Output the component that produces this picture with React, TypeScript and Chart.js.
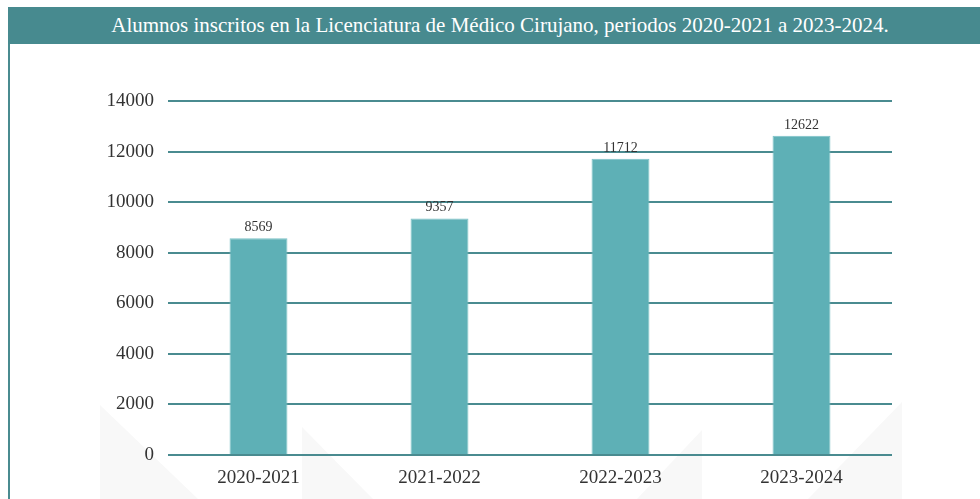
import React, { useEffect, useRef } from "react";
import { Chart, registerables } from "chart.js";

Chart.register(...registerables);

const TITLE = "Alumnos inscritos en la Licenciatura de Médico Cirujano, periodos 2020-2021 a 2023-2024.";
const categories = ["2020-2021", "2021-2022", "2022-2023", "2023-2024"];
const alumnos = [8569, 9357, 11712, 12622];
const yTicks = [0, 2000, 4000, 6000, 8000, 10000, 12000, 14000];

const FONT = "'Liberation Serif', 'DejaVu Serif', serif";
const TEAL_DARK = "#4a8b90";
const BAR = "#5eb0b6";

const watermarkPlugin = {
  id: "watermark",
  beforeDraw(chart: any) {
    const ctx = chart.ctx;
    const h = chart.height;
    ctx.save();
    ctx.fillStyle = "#f8f8f8";
    const tris = [
      [[92, h - 94], [92, h], [190, h]],
      [[294, h - 72], [294, h], [365, h]],
      [[694, h - 69], [694, h], [629, h]],
      [[894, h - 97], [894, h], [800, h]],
    ];
    for (const t of tris) {
      ctx.beginPath();
      ctx.moveTo(t[0][0], t[0][1]);
      ctx.lineTo(t[1][0], t[1][1]);
      ctx.lineTo(t[2][0], t[2][1]);
      ctx.closePath();
      ctx.fill();
    }
    ctx.restore();
  },
};

const valueLabels = {
  id: "valueLabels",
  afterDatasetsDraw(chart: any) {
    const ctx = chart.ctx;
    const meta = chart.getDatasetMeta(0);
    ctx.save();
    ctx.font = `14px ${FONT}`;
    ctx.fillStyle = "#333333";
    ctx.textAlign = "center";
    ctx.textBaseline = "bottom";
    meta.data.forEach((el: any, i: number) => {
      ctx.fillText(String(chart.data.datasets[0].data[i]), el.x, el.y - 4);
    });
    ctx.restore();
  },
};

export default function App() {
  const ref = useRef<HTMLCanvasElement>(null);
  useEffect(() => {
    if (!ref.current) return;
    const chart = new Chart(ref.current, {
      type: "bar",
      data: {
        labels: categories,
        datasets: [
          {
            data: alumnos,
            backgroundColor: BAR,
            borderColor: "#7cc2c7",
            borderWidth: 1,
            categoryPercentage: 1,
            barPercentage: 0.32,
          },
        ],
      },
      options: {
        animation: false,
        responsive: false,
        maintainAspectRatio: false,
        layout: { padding: { top: 57, right: 88, left: 0, bottom: 0 } },
        plugins: { legend: { display: false }, tooltip: { enabled: false }, title: { display: false } },
        scales: {
          x: {
            grid: { display: false, drawTicks: false },
            border: { display: false },
            ticks: { font: { family: FONT, size: 19 }, color: "#333333", padding: 12 },
            afterFit: (s: any) => { s.height = 44; },
          },
          y: {
            min: 0,
            max: 14000,
            afterBuildTicks: (s: any) => { s.ticks = yTicks.map((v) => ({ value: v })); },
            grid: { color: TEAL_DARK, lineWidth: 2, drawTicks: false },
            border: { display: false },
            ticks: {
              font: { family: FONT, size: 19 },
              color: "#333333",
              padding: 14,
              callback: (v: any) => String(v),
            },
            afterFit: (s: any) => { s.width = 160; },
          },
        },
      },
      plugins: [watermarkPlugin, valueLabels],
    });
    return () => chart.destroy();
  }, []);

  return (
    <div style={{ position: "fixed", left: 0, top: 0, width: 980, height: 499, overflow: "hidden", background: "#fff" }}>
      <div
        style={{
          position: "absolute",
          left: 8,
          top: 7,
          width: 972,
          height: 37,
          background: "#478a8f",
          color: "#fff",
          fontFamily: FONT,
          fontSize: 21,
          lineHeight: "37px",
          textAlign: "center",
          paddingLeft: 12,
          boxSizing: "border-box",
          whiteSpace: "nowrap",
        }}
      >
        {TITLE}
      </div>
      <div style={{ position: "absolute", left: 8, top: 44, width: 2, height: 455, background: TEAL_DARK }} />
      <canvas ref={ref} width={972} height={455} style={{ position: "absolute", left: 8, top: 44, display: "block" }} />
    </div>
  );
}
